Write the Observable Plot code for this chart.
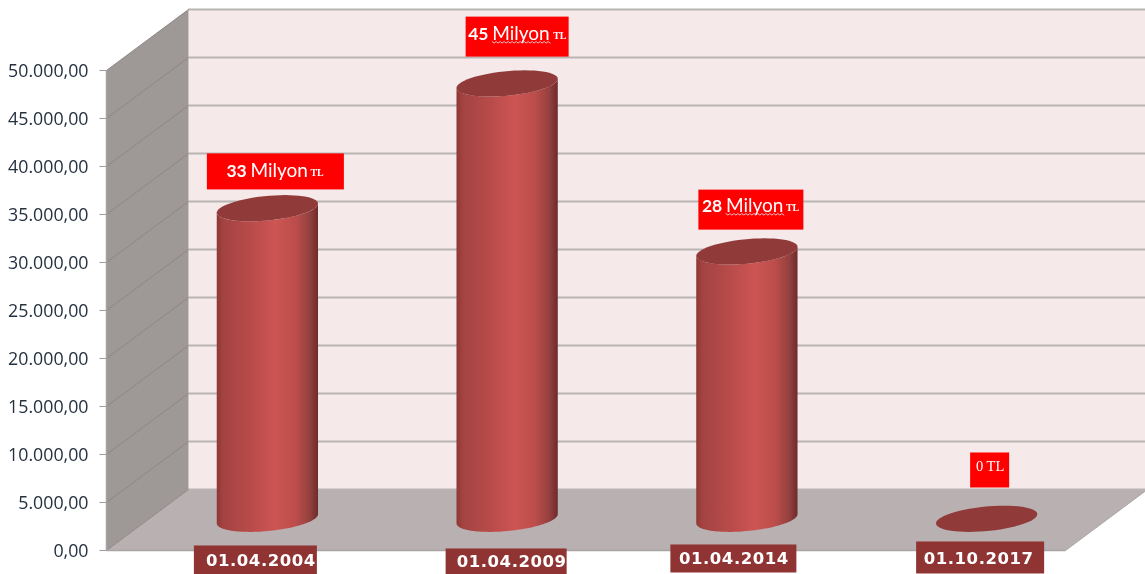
<!DOCTYPE html>
<html><head><meta charset="utf-8">
<script src="https://cdn.jsdelivr.net/npm/d3@7"></script>
<script src="https://cdn.jsdelivr.net/npm/@observablehq/plot@0.6"></script>
<style>
html,body{margin:0;padding:0;background:#fff;overflow:hidden}
svg{display:block;overflow:hidden;filter:blur(0.4px)}
.catlabel text{letter-spacing:.55px}
</style></head><body><div id="chart"></div>
<script>
// ---- data
const categories = ["01.04.2004","01.04.2009","01.04.2014","01.10.2017"];
const values = [32350, 45350, 27850, 0];
const amounts = ["33","45","28",""];
const units = ["Milyon","Milyon","Milyon",""];
const currency = ["TL","TL","TL","0 TL"];
const tickValues = [0,5000,10000,15000,20000,25000,30000,35000,40000,45000,50000];

// ---- 3D projection: depth 0 = front plane, depth 1 = back wall
const depthX = 0.342, depthY = 6354, nCat = categories.length;
const pxPerCat = 239.75, pxPerVal = 0.0096;
const ux = px => px / pxPerCat, uy = px => px / pxPerVal;
const P = (c, v, d) => ({x: c + d * depthX, y: v + d * depthY});
const poly = (pts, fill, opt = {}) => Plot.line(pts, {x: "x", y: "y", fill, stroke: "none", ...opt});

const fmt = d3.formatLocale({decimal: ",", thousands: ".", grouping: [3], currency: ["", ""]}).format(",.2f");

// ---- cylinders
const R = 0.198, D = 0.215, mid = 0.52, slot = 0.4932;
const tilt = Math.atan2(D * depthX, R);
const ring = (c, v, t) => P(c + R * Math.cos(t), v, mid + D * Math.sin(t));
const arc = (c, v, a, b) => d3.range(0, 61).map(i => ring(c, v, a + (b - a) * i / 60));
const sides = values.flatMap((v, i) => v > 0
  ? [...arc(i + slot, 0, tilt + Math.PI, tilt + 2 * Math.PI), ...arc(i + slot, v, tilt + 2 * Math.PI, tilt + Math.PI)].map(p => ({...p, i}))
  : []);
const tops = values.flatMap((v, i) => arc(i + slot, v, 0, 2 * Math.PI).map(p => ({...p, i})));

// ---- annotation layout, pixels relative to each bar's top centre / base
const boxLayout = [[8.5,-36.3,137,36],[10.5,-46.3,103,40],[4.5,-41.3,105,40],[3.5,-48.3,39,35]];
const runLayout = [[19,43,103,-1],[2,26,87,-3],[3,27,87,-4],[0,0,0,-4]];
const catLayout = [[-11.5,41.7,123,29,5,0.5],[-0.5,43.2,121,26,5,0],[-13,40.2,126,28,0,0],[-6,39.2,128,32,-2,1]];

const topC = values.map((v, i) => P(i + slot, v, mid));
const baseC = values.map((v, i) => P(i + slot, 0, mid));
const boxes = categories.map((_, i) => {
  const [dx, dy, w, h] = boxLayout[i], c = topC[i];
  return {x1: c.x + ux(dx - w / 2), x2: c.x + ux(dx + w / 2), y1: c.y - uy(dy - h / 2), y2: c.y - uy(dy + h / 2), cx: c.x + ux(dx), cy: c.y - uy(dy), l: c.x + ux(dx - w / 2), i};
});
const run = (k, texts) => texts.map((t, i) => ({t, i, x: boxes[i].l + ux(runLayout[i][k]), y: boxes[i].cy - uy(runLayout[i][3])})).filter(d => d.t && d.i < 3);
const catBoxes = categories.map((t, i) => {
  const [dx, dy, w, h, tx, ty] = catLayout[i], c = baseC[i];
  return {t, x1: c.x + ux(dx - w / 2), x2: c.x + ux(dx + w / 2), y1: c.y - uy(dy - h / 2), y2: c.y - uy(dy + h / 2), cx: c.x + ux(dx + tx), cy: c.y - uy(dy + ty)};
});
// spell-check squiggle under the word in the second and third callouts
const squiggle = [1, 2].flatMap(i => d3.range(0, 30).map(k => ({
  i, x: boxes[i].l + ux(runLayout[i][1] + k * 2), y: boxes[i].cy - uy(runLayout[i][3]) - uy(8 + (k % 2 ? 1 : -0.6))
})));
const defs = () => {
  const s = d3.create("svg:defs");
  const g = s.append("linearGradient").attr("id", "cyl");
  [[0,"#8e3735"],[.06,"#a34341"],[.35,"#b94c4a"],[.58,"#cd5553"],[.78,"#bb4d4b"],[.92,"#93403e"],[1,"#6c2b2a"]]
    .forEach(([o, c]) => g.append("stop").attr("offset", o).attr("stop-color", c));
  return s.node();
};

const gridBack = tickValues.map(v => P(0, v, 1).y);
const chart = Plot.plot({
  width: 1145, height: 574,
  marginLeft: 106, marginRight: 0, marginTop: 9, marginBottom: 24,
  x: {domain: [-0.1, nCat + depthX], range: [106 - 0.1 * pxPerCat, 106 + pxPerCat * (nCat + depthX)], axis: null},
  y: {domain: [0, 50000 + depthY], range: [550, 9], axis: null},
  style: {background: "#fff", overflow: "hidden"},
  marks: [
    defs,
    poly([P(0,0,1), P(nCat,0,1), P(nCat,50000,1), P(0,50000,1)], "#f5e9e9"),
    poly([P(0,0,0), P(0,0,1), P(0,50000,1), P(0,50000,0)], "#9e9897"),
    poly([P(0,0,0), P(0,0,1), P(nCat,0,1), P(nCat,0,0)], "#b9b1b1"),
    Plot.ruleY(gridBack, {x1: depthX, x2: nCat + depthX, stroke: "#bab4b4", strokeWidth: 2}),
    Plot.link(tickValues, {x1: 0, y1: d => d, x2: depthX, y2: d => d + depthY, stroke: "#8d8786", strokeWidth: 1}),
    Plot.link([0], {x1: 0, y1: 0, x2: nCat, y2: 0, stroke: "#a9a5a5", strokeWidth: 1.5}),
    Plot.link([0], {x1: nCat, y1: 0, x2: nCat + depthX, y2: depthY, stroke: "#a9a5a5", strokeWidth: 1}),
    Plot.ruleX([0], {y1: 0, y2: 50000, stroke: "#a3a3a3", strokeWidth: 1.5}),
    Plot.link(tickValues, {x1: ux(-7), x2: 0, y1: d => d, y2: d => d, stroke: "#9d9d9d", strokeWidth: 1}),
    Plot.axisY(tickValues, {anchor: "left", tickSize: 0, tickPadding: 18, dy: 1, tickFormat: fmt, label: null,
      fill: "#253140", fontSize: 17.8, fontFamily: "Open Sans"}),
    Plot.line(sides, {x: "x", y: "y", z: "i", fill: "url(#cyl)", stroke: "none"}),
    Plot.line(tops, {x: "x", y: "y", z: "i", fill: "#903a39", stroke: "none"}),
    Plot.rect(boxes, {x1: "x1", x2: "x2", y1: "y1", y2: "y2", fill: "#ff0000"}),
    Plot.text(run(0, amounts), {x: "x", y: "y", text: "t", textAnchor: "start", fill: "#fff", fontWeight: "bold", fontFamily: "Lato", fontSize: 17.5}),
    Plot.text(run(1, units), {x: "x", y: "y", text: "t", textAnchor: "start", fill: "#fff", fontFamily: "Lato", fontSize: 19}),
    Plot.line(squiggle, {x: "x", y: "y", z: "i", stroke: "#f9c4c4", strokeWidth: 1}),
    Plot.text(run(2, currency), {x: "x", y: "y", dy: 2, text: "t", textAnchor: "start", fill: "#fff", fontWeight: "bold", fontFamily: "Liberation Serif", fontSize: 10}),
    Plot.text([3], {x: i => boxes[i].cx, y: i => boxes[i].cy - uy(runLayout[i][3]), text: i => currency[i], fill: "#fff", fontFamily: "Liberation Serif", fontSize: 14.5}),
    Plot.rect(catBoxes, {x1: "x1", x2: "x2", y1: "y1", y2: "y2", fill: "#8f3333"}),
    Plot.text(catBoxes, {x: "cx", y: "cy", text: "t", fill: "#fff", fontWeight: "bold", fontFamily: "DejaVu Sans", fontSize: 16.5, className: "catlabel"})
  ]
});
document.getElementById("chart").append(chart);
</script></body></html>
